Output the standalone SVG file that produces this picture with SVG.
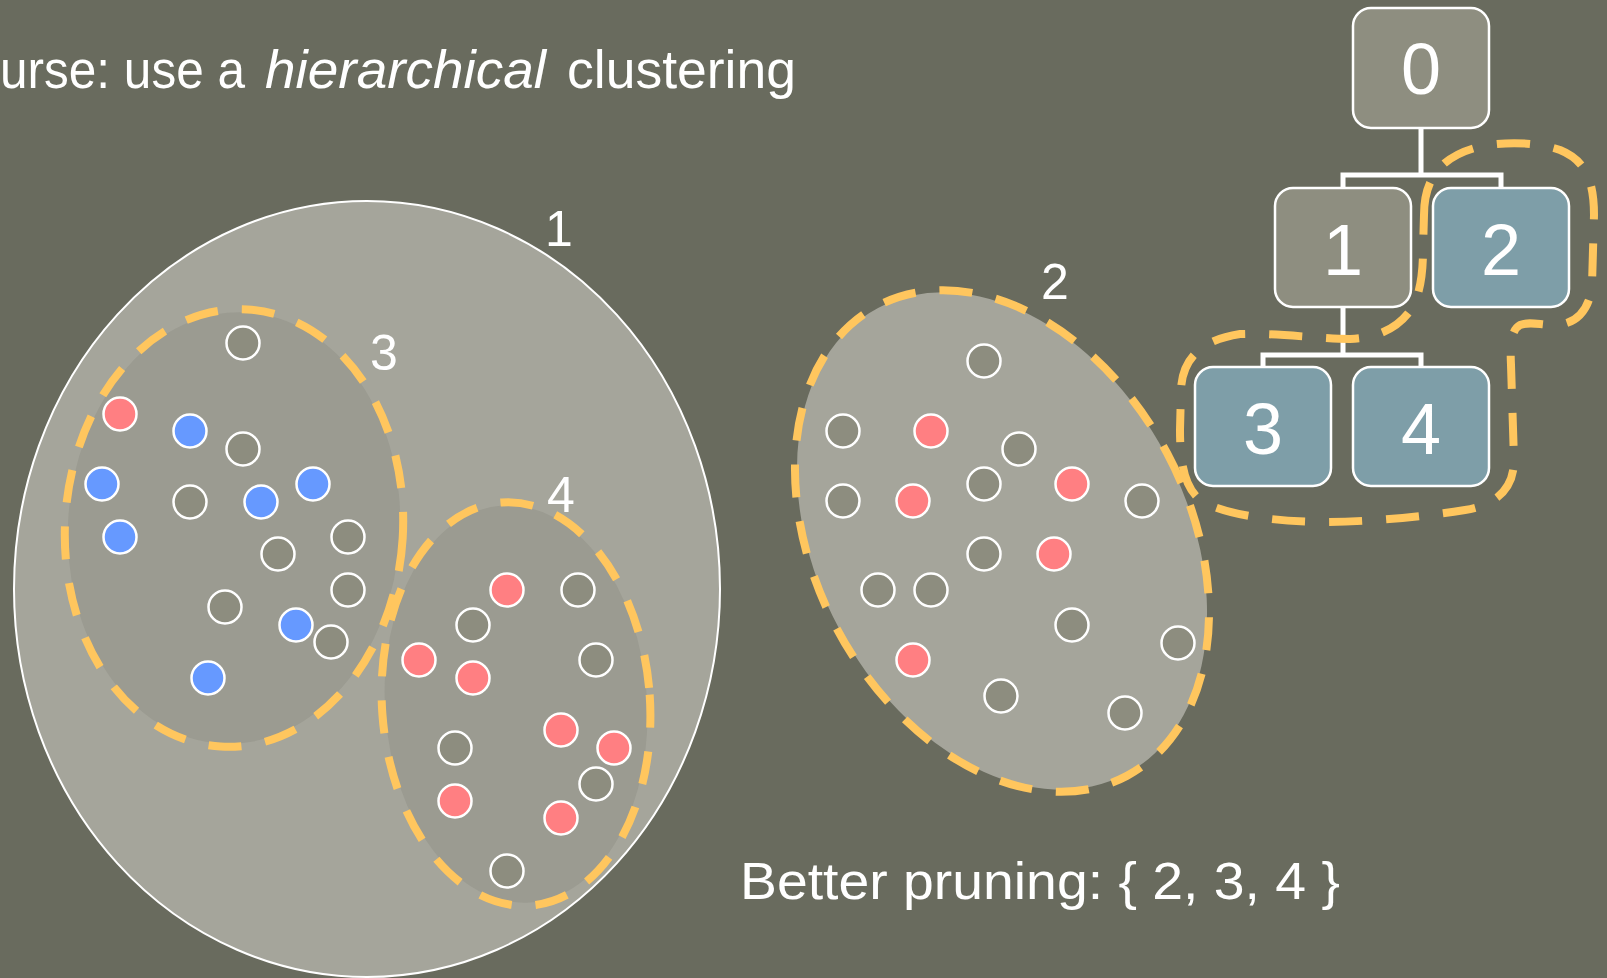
<svg xmlns="http://www.w3.org/2000/svg" width="1607" height="978" viewBox="0 0 1607 978">
<style>
.txt{font-family:"Liberation Sans",Arial,sans-serif;fill:#ffffff}
.lbl{font-family:"Liberation Sans",Arial,sans-serif;fill:#ffffff;font-size:50px;text-anchor:middle}
.box{stroke:#ffffff;stroke-width:2.5}
.bx0{fill:#8e8e80}
.bx1{fill:#7e9ea8}
.btxt{font-family:"Liberation Sans",Arial,sans-serif;fill:#ffffff;font-size:72px;text-anchor:middle}
.dash{fill:none;stroke:#ffc65e;stroke-width:8;stroke-dasharray:33 24}
.g{fill:#8d8d7f;stroke:#ffffff;stroke-width:2.5}
.r{fill:#ff7f82;stroke:#ffffff;stroke-width:2.5}
.b{fill:#6699ff;stroke:#ffffff;stroke-width:2.5}
.conn{fill:none;stroke:#ffffff;stroke-width:5}
</style>
<rect x="0" y="0" width="1607" height="978" fill="#696b5e"/>

<g id="title">
<text class="txt" x="0" y="88" font-size="53" textLength="245" lengthAdjust="spacingAndGlyphs">urse: use a</text>
<text class="txt" x="265" y="88" font-size="53" font-style="italic" textLength="281" lengthAdjust="spacingAndGlyphs">hierarchical</text>
<text class="txt" x="567" y="88" font-size="53" textLength="229" lengthAdjust="spacingAndGlyphs">clustering</text>
</g>

<g id="cluster1">
<ellipse cx="367" cy="589" rx="353" ry="388" fill="#a5a59b" stroke="#ffffff" stroke-width="2"/>
<text class="lbl" x="559" y="246">1</text>
</g>

<g id="cluster3">
<ellipse cx="234" cy="528" rx="166" ry="216" transform="rotate(3.5 234 528)" fill="#9b9b91"/>
<ellipse class="dash" cx="234" cy="528" rx="169" ry="219" transform="rotate(3.5 234 528)"/>
<text class="lbl" x="384" y="370">3</text>
<circle class="g" cx="243" cy="343" r="16.5"/>
<circle class="r" cx="120" cy="414" r="16.5"/>
<circle class="b" cx="190" cy="431" r="16.5"/>
<circle class="g" cx="243" cy="449" r="16.5"/>
<circle class="b" cx="102" cy="484" r="16.5"/>
<circle class="g" cx="190" cy="502" r="16.5"/>
<circle class="b" cx="261" cy="502" r="16.5"/>
<circle class="b" cx="313" cy="484" r="16.5"/>
<circle class="b" cx="120" cy="537" r="16.5"/>
<circle class="g" cx="348" cy="537" r="16.5"/>
<circle class="g" cx="278" cy="554" r="16.5"/>
<circle class="g" cx="348" cy="590" r="16.5"/>
<circle class="g" cx="225" cy="607" r="16.5"/>
<circle class="b" cx="296" cy="625" r="16.5"/>
<circle class="g" cx="331" cy="642" r="16.5"/>
<circle class="b" cx="208" cy="678" r="16.5"/>
</g>

<g id="cluster4">
<ellipse cx="516" cy="704" rx="131" ry="199" transform="rotate(-4 516 704)" fill="#9b9b91"/>
<ellipse class="dash" cx="516" cy="704" rx="134" ry="202" transform="rotate(-4 516 704)"/>
<text class="lbl" x="561" y="512">4</text>
<circle class="r" cx="507" cy="590" r="16.5"/>
<circle class="g" cx="578" cy="590" r="16.5"/>
<circle class="g" cx="473" cy="625" r="16.5"/>
<circle class="r" cx="419" cy="660" r="16.5"/>
<circle class="r" cx="473" cy="678" r="16.5"/>
<circle class="g" cx="596" cy="660" r="16.5"/>
<circle class="r" cx="561" cy="730" r="16.5"/>
<circle class="r" cx="614" cy="748" r="16.5"/>
<circle class="g" cx="455" cy="748" r="16.5"/>
<circle class="g" cx="596" cy="784" r="16.5"/>
<circle class="r" cx="455" cy="801" r="16.5"/>
<circle class="r" cx="561" cy="818" r="16.5"/>
<circle class="g" cx="507" cy="871" r="16.5"/>
</g>

<g id="cluster2">
<ellipse cx="1002" cy="541" rx="185" ry="264" transform="rotate(-28 1002 541)" fill="#a5a59b"/>
<ellipse class="dash" cx="1002" cy="541" rx="187" ry="266" transform="rotate(-28 1002 541)"/>
<text class="lbl" x="1055" y="299">2</text>
<circle class="g" cx="984" cy="361" r="16.5"/>
<circle class="g" cx="843" cy="431" r="16.5"/>
<circle class="r" cx="931" cy="431" r="16.5"/>
<circle class="g" cx="1019" cy="449" r="16.5"/>
<circle class="g" cx="984" cy="484" r="16.5"/>
<circle class="r" cx="1072" cy="484" r="16.5"/>
<circle class="g" cx="843" cy="501" r="16.5"/>
<circle class="r" cx="913" cy="501" r="16.5"/>
<circle class="g" cx="1142" cy="501" r="16.5"/>
<circle class="g" cx="984" cy="554" r="16.5"/>
<circle class="r" cx="1054" cy="554" r="16.5"/>
<circle class="g" cx="878" cy="590" r="16.5"/>
<circle class="g" cx="931" cy="590" r="16.5"/>
<circle class="g" cx="1072" cy="625" r="16.5"/>
<circle class="g" cx="1178" cy="643" r="16.5"/>
<circle class="r" cx="913" cy="660" r="16.5"/>
<circle class="g" cx="1001" cy="696" r="16.5"/>
<circle class="g" cx="1125" cy="713" r="16.5"/>
</g>

<g id="connectors">
<path class="conn" d="M1421,128 V175 M1343,188 V175 H1501 V188"/>
<path class="conn" d="M1343,307 V355 M1263,367 V355 H1421 V367"/>
</g>

<g id="node0">
<rect class="box bx0" x="1353" y="8" width="136" height="120" rx="18"/>
<text class="btxt" x="1421" y="94">0</text>
</g>
<g id="node1">
<rect class="box bx0" x="1275" y="188" width="136" height="119" rx="18"/>
<text class="btxt" x="1343" y="275">1</text>
</g>
<g id="node2">
<rect class="box bx1" x="1433" y="188" width="136" height="119" rx="18"/>
<text class="btxt" x="1501" y="275">2</text>
</g>
<g id="node3">
<rect class="box bx1" x="1195" y="367" width="136" height="119" rx="18"/>
<text class="btxt" x="1263" y="454">3</text>
</g>
<g id="node4">
<rect class="box bx1" x="1353" y="367" width="136" height="119" rx="18"/>
<text class="btxt" x="1421" y="454">4</text>
</g>

<g id="pruning">
<path class="dash" d="M1424,215 C1424,180 1440,155 1483,146 C1510,141 1540,143 1560,150 C1585,160 1594,180 1594,215 L1592,285 C1590,310 1575,325 1555,325 C1540,325 1530,321 1520,325 C1511,330 1510,345 1511,365 L1514,460 C1514,490 1495,505 1465,510 C1420,517 1370,522 1320,522 C1270,521 1230,515 1205,503 C1185,492 1180,465 1180,430 L1181,390 C1182,360 1200,340 1240,334 C1280,333 1320,339 1350,339 C1380,338 1400,326 1412,308 C1421,292 1423,270 1423,250 Z"/>
</g>

<g id="caption">
<text class="txt" x="740" y="899" font-size="52" textLength="600" lengthAdjust="spacingAndGlyphs">Better pruning: { 2, 3, 4 }</text>
</g>
</svg>
